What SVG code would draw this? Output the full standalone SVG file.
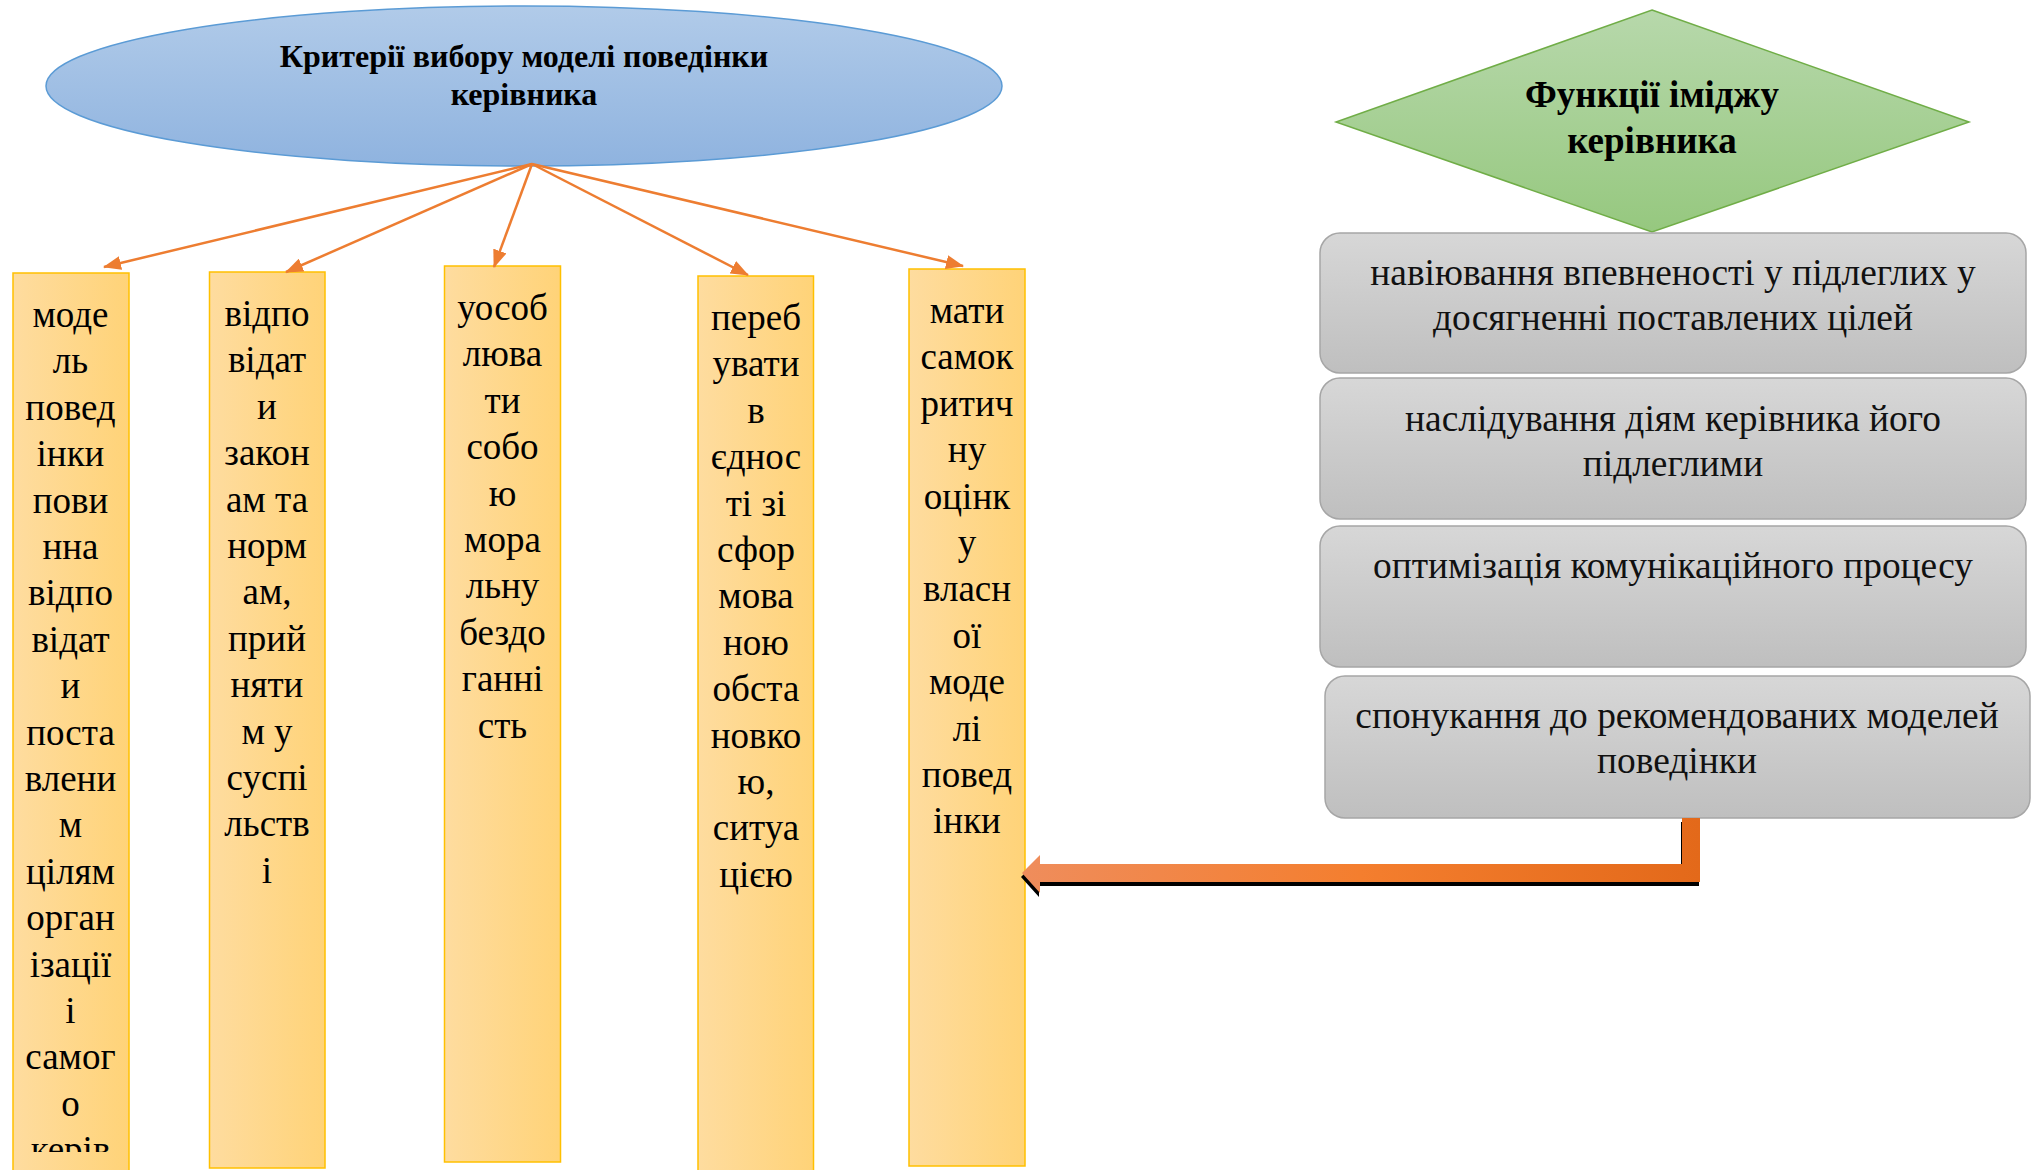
<svg xmlns="http://www.w3.org/2000/svg" width="2038" height="1170" viewBox="0 0 2038 1170">
<style>
.title{font-family:"Liberation Serif","Times New Roman",serif;font-weight:bold;fill:#000;text-anchor:middle}
.ytxt{font-family:"Liberation Serif","Times New Roman",serif;font-size:37px;fill:#000;text-anchor:middle}
.gtxt{font-family:"Liberation Serif","Times New Roman",serif;font-size:37.4px;fill:#111;text-anchor:middle}
.ybox{fill:url(#yg);stroke:#ffc000;stroke-width:1.5}
.gbox{fill:url(#gg);stroke:#a6a6a6;stroke-width:1.5}
.thin{stroke:#ed7d31;stroke-width:2.5;fill:none;marker-end:url(#ah)}
</style>
<defs>
<linearGradient id="eg" x1="0" y1="0" x2="0" y2="1">
<stop offset="0" stop-color="#b1cbe9"/><stop offset="1" stop-color="#8fb3df"/>
</linearGradient>
<linearGradient id="dg" x1="0" y1="0" x2="0" y2="1">
<stop offset="0" stop-color="#b7d8ab"/><stop offset="1" stop-color="#96c87f"/>
</linearGradient>
<linearGradient id="yg" x1="0" y1="0" x2="1" y2="0">
<stop offset="0" stop-color="#fedc9f"/><stop offset="1" stop-color="#ffd378"/>
</linearGradient>
<linearGradient id="gg" x1="0" y1="0" x2="0" y2="1">
<stop offset="0" stop-color="#d7d7d7"/><stop offset="1" stop-color="#bfbfbf"/>
</linearGradient>
<linearGradient id="og" gradientUnits="userSpaceOnUse" x1="1022" y1="0" x2="1700" y2="0">
<stop offset="0" stop-color="#ef8d5c"/><stop offset="0.5" stop-color="#f47e2e"/><stop offset="1" stop-color="#e3691a"/>
</linearGradient>
<marker id="ah" markerUnits="userSpaceOnUse" markerWidth="18" markerHeight="14" refX="17" refY="7" orient="auto">
<path d="M0,0 L18,7 L0,14 z" fill="#ed7d31"/>
</marker>
<clipPath id="c1"><rect x="13" y="273" width="116" height="879"/></clipPath>
</defs>

<g id="criteria">
<ellipse cx="524" cy="86" rx="478" ry="80" fill="url(#eg)" stroke="#5b9bd5" stroke-width="1.5"/>
<text class="title" font-size="32" x="524" y="67">Критерії вибору моделі поведінки</text>
<text class="title" font-size="32" x="524" y="105">керівника</text>
</g>

<g id="box1">
<rect class="ybox" x="13" y="273" width="116" height="900"/>
<text class="ytxt" clip-path="url(#c1)" x="70.5" y="327"><tspan x="70.5">моде</tspan><tspan x="70.5" dy="46.4">ль</tspan><tspan x="70.5" dy="46.4">повед</tspan><tspan x="70.5" dy="46.4">інки</tspan><tspan x="70.5" dy="46.4">пови</tspan><tspan x="70.5" dy="46.4">нна</tspan><tspan x="70.5" dy="46.4">відпо</tspan><tspan x="70.5" dy="46.4">відат</tspan><tspan x="70.5" dy="46.4">и</tspan><tspan x="70.5" dy="46.4">поста</tspan><tspan x="70.5" dy="46.4">влени</tspan><tspan x="70.5" dy="46.4">м</tspan><tspan x="70.5" dy="46.4">цілям</tspan><tspan x="70.5" dy="46.4">орган</tspan><tspan x="70.5" dy="46.4">ізації</tspan><tspan x="70.5" dy="46.4">і</tspan><tspan x="70.5" dy="46.4">самог</tspan><tspan x="70.5" dy="46.4">о</tspan><tspan x="70.5" dy="46.4">керів</tspan></text>
</g>

<g id="box2">
<rect class="ybox" x="209.5" y="272" width="115.5" height="896"/>
<text class="ytxt" x="267" y="326"><tspan x="267">відпо</tspan><tspan x="267" dy="46.4">відат</tspan><tspan x="267" dy="46.4">и</tspan><tspan x="267" dy="46.4">закон</tspan><tspan x="267" dy="46.4">ам та</tspan><tspan x="267" dy="46.4">норм</tspan><tspan x="267" dy="46.4">ам,</tspan><tspan x="267" dy="46.4">прий</tspan><tspan x="267" dy="46.4">няти</tspan><tspan x="267" dy="46.4">м у</tspan><tspan x="267" dy="46.4">суспі</tspan><tspan x="267" dy="46.4">льств</tspan><tspan x="267" dy="46.4">і</tspan></text>
</g>

<g id="box3">
<rect class="ybox" x="444.5" y="266" width="116" height="896"/>
<text class="ytxt" x="502.5" y="320"><tspan x="502.5">уособ</tspan><tspan x="502.5" dy="46.4">люва</tspan><tspan x="502.5" dy="46.4">ти</tspan><tspan x="502.5" dy="46.4">собо</tspan><tspan x="502.5" dy="46.4">ю</tspan><tspan x="502.5" dy="46.4">мора</tspan><tspan x="502.5" dy="46.4">льну</tspan><tspan x="502.5" dy="46.4">бездо</tspan><tspan x="502.5" dy="46.4">ганні</tspan><tspan x="502.5" dy="46.4">сть</tspan></text>
</g>

<g id="box4">
<rect class="ybox" x="698" y="276" width="115.5" height="900"/>
<text class="ytxt" x="756" y="330"><tspan x="756">переб</tspan><tspan x="756" dy="46.4">увати</tspan><tspan x="756" dy="46.4">в</tspan><tspan x="756" dy="46.4">єднос</tspan><tspan x="756" dy="46.4">ті зі</tspan><tspan x="756" dy="46.4">сфор</tspan><tspan x="756" dy="46.4">мова</tspan><tspan x="756" dy="46.4">ною</tspan><tspan x="756" dy="46.4">обста</tspan><tspan x="756" dy="46.4">новко</tspan><tspan x="756" dy="46.4">ю,</tspan><tspan x="756" dy="46.4">ситуа</tspan><tspan x="756" dy="46.4">цією</tspan></text>
</g>

<g id="box5">
<rect class="ybox" x="909" y="269" width="116" height="897"/>
<text class="ytxt" x="967" y="323"><tspan x="967">мати</tspan><tspan x="967" dy="46.4">самок</tspan><tspan x="967" dy="46.4">ритич</tspan><tspan x="967" dy="46.4">ну</tspan><tspan x="967" dy="46.4">оцінк</tspan><tspan x="967" dy="46.4">у</tspan><tspan x="967" dy="46.4">власн</tspan><tspan x="967" dy="46.4">ої</tspan><tspan x="967" dy="46.4">моде</tspan><tspan x="967" dy="46.4">лі</tspan><tspan x="967" dy="46.4">повед</tspan><tspan x="967" dy="46.4">інки</tspan></text>
</g>

<g id="functions">
<polygon points="1652,10 1969,122 1652,232 1336,122" fill="url(#dg)" stroke="#70ad47" stroke-width="1.5"/>
<text class="title" font-size="37" x="1652" y="107">Функції іміджу</text>
<text class="title" font-size="37" x="1652" y="153">керівника</text>
</g>

<g id="func1">
<rect class="gbox" x="1320" y="233" width="706" height="140" rx="20"/>
<text class="gtxt" x="1673" y="284.5">навіювання впевненості у підлеглих у</text>
<text class="gtxt" x="1673" y="329.5">досягненні поставлених цілей</text>
</g>
<g id="func2">
<rect class="gbox" x="1320" y="378" width="706" height="141" rx="20"/>
<text class="gtxt" x="1673" y="430.5">наслідування діям керівника його</text>
<text class="gtxt" x="1673" y="475.5">підлеглими</text>
</g>
<g id="func3">
<rect class="gbox" x="1320" y="526" width="706" height="141" rx="20"/>
<text class="gtxt" x="1673" y="577.5">оптимізація комунікаційного процесу</text>
</g>
<g id="func4">
<rect class="gbox" x="1325" y="676" width="705" height="142" rx="20"/>
<text class="gtxt" x="1677" y="727.5">спонукання до рекомендованих моделей</text>
<text class="gtxt" x="1677" y="773">поведінки</text>
</g>

<g id="connectors">
<line class="thin" x1="532" y1="164" x2="104" y2="267"/>
<line class="thin" x1="532" y1="164" x2="286" y2="272"/>
<line class="thin" x1="532" y1="164" x2="494" y2="267"/>
<line class="thin" x1="532" y1="164" x2="748" y2="275"/>
<line class="thin" x1="532" y1="164" x2="963" y2="266"/>
<polygon points="1682,818 1700,818 1700,882 1040,882 1040,893 1022,873 1040,855 1040,864 1682,864" fill="#000" transform="translate(-1,4)"/>
<polygon points="1682,818 1700,818 1700,882 1040,882 1040,893 1022,873 1040,855 1040,864 1682,864" fill="url(#og)"/>
</g>
</svg>
